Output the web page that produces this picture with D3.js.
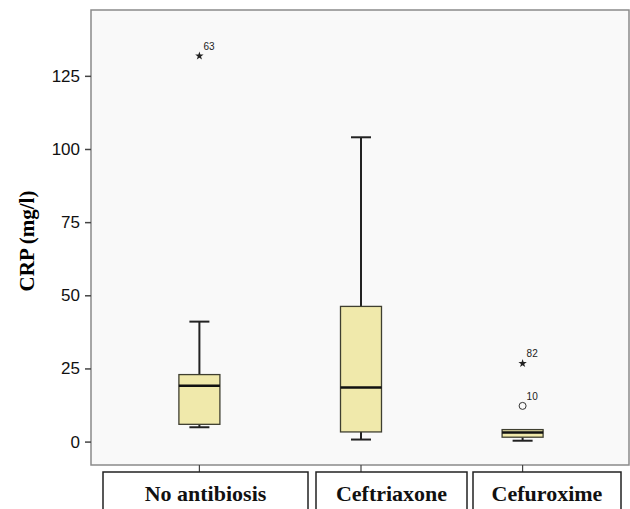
<!DOCTYPE html>
<html>
<head>
<meta charset="utf-8">
<script src="https://cdn.jsdelivr.net/npm/d3@7"></script>
<style>
  body { margin: 0; background: #fff; }
  svg { display: block; }
  .tick text { font-family: "Liberation Sans", Arial, sans-serif; font-size: 17px; fill: #111; }
</style>
</head>
<body>
<svg id="chart" width="630" height="509"></svg>
<script>
// CRP box plots per antibiotic group
const groups = ["No antibiosis", "Ceftriaxone", "Cefuroxime"];
const whiskerLow = [4.9, 0.7, 0.3];
const q1 = [5.9, 3.3, 1.5];
const median = [19.1, 18.5, 3.1];
const q3 = [22.9, 46.2, 4.1];
const whiskerHigh = [41, 104, 4.1];
const yTicks = [0, 25, 50, 75, 100, 125];

// outliers: group, value, case label, kind (star = extreme, circle = outlier)
const outlierGroup = ["No antibiosis", "Cefuroxime", "Cefuroxime"];
const outlierValue = [131.8, 26.7, 12.2];
const outlierLabel = ["63", "82", "10"];
const outlierKind = ["star", "star", "circle"];

const plot = { left: 91, top: 10, right: 629, bottom: 465 };
// category label boxes under the plot (layout only)
const labelBoxes = [[103, 308], [316, 467], [473, 621]];

const svg = d3.select("#chart");

const y = d3.scaleLinear()
    .domain([-8, 147.5])
    .range([plot.bottom, plot.top]);

const x = d3.scaleBand()
    .domain(groups)
    .range([119, 603])
    .paddingInner(0.745)
    .paddingOuter(0.37);

const boxW = 41;
const capW = 20;

svg.append("rect")
    .attr("x", plot.left)
    .attr("y", plot.top)
    .attr("width", plot.right - plot.left)
    .attr("height", plot.bottom - plot.top)
    .attr("fill", "#f9f9f9")
    .attr("stroke", "#8a8a8a")
    .attr("stroke-width", 1.5);

// y axis
const yAxis = svg.append("g")
    .attr("transform", `translate(${plot.left},0)`)
    .call(d3.axisLeft(y).tickValues(yTicks).tickSize(6).tickPadding(5));
yAxis.select(".domain").remove();
yAxis.selectAll(".tick line").attr("stroke", "#444").attr("stroke-width", 1.5);

svg.append("text")
    .attr("transform", `translate(34,241) rotate(-90)`)
    .attr("text-anchor", "middle")
    .style("font-family", "'Liberation Serif', 'Times New Roman', serif")
    .style("font-weight", "bold")
    .style("font-size", "21px")
    .text("CRP (mg/l)");

const cx = d => x(d) + x.bandwidth() / 2;

const data = groups.map((g, i) => ({
    group: g, lo: whiskerLow[i], q1: q1[i], med: median[i], q3: q3[i], hi: whiskerHigh[i]
}));

const box = svg.append("g").selectAll("g")
    .data(data)
    .enter()
    .append("g");

// whiskers
box.filter(d => d.hi > d.q3).append("line")
    .attr("x1", d => cx(d.group)).attr("x2", d => cx(d.group))
    .attr("y1", d => y(d.hi)).attr("y2", d => y(d.q3))
    .attr("stroke", "#222").attr("stroke-width", 2);
box.filter(d => d.hi > d.q3).append("line")
    .attr("x1", d => cx(d.group) - capW / 2).attr("x2", d => cx(d.group) + capW / 2)
    .attr("y1", d => y(d.hi)).attr("y2", d => y(d.hi))
    .attr("stroke", "#222").attr("stroke-width", 2);
box.append("line")
    .attr("x1", d => cx(d.group)).attr("x2", d => cx(d.group))
    .attr("y1", d => y(d.lo)).attr("y2", d => y(d.q1))
    .attr("stroke", "#222").attr("stroke-width", 2);
box.append("line")
    .attr("x1", d => cx(d.group) - capW / 2).attr("x2", d => cx(d.group) + capW / 2)
    .attr("y1", d => y(d.lo)).attr("y2", d => y(d.lo))
    .attr("stroke", "#222").attr("stroke-width", 2);

box.append("rect")
    .attr("x", d => cx(d.group) - boxW / 2)
    .attr("width", boxW)
    .attr("y", d => y(d.q3))
    .attr("height", d => y(d.q1) - y(d.q3))
    .attr("fill", "#f0e9ab")
    .attr("stroke", "#3f3f30")
    .attr("stroke-width", 1.3);

box.append("line")
    .attr("x1", d => cx(d.group) - boxW / 2).attr("x2", d => cx(d.group) + boxW / 2)
    .attr("y1", d => y(d.med)).attr("y2", d => y(d.med))
    .attr("stroke", "#111").attr("stroke-width", 2.5);

// outliers
const outliers = outlierValue.map((v, i) => ({
    group: outlierGroup[i], value: v, label: outlierLabel[i], kind: outlierKind[i]
}));
const og = svg.append("g").selectAll("g")
    .data(outliers)
    .enter()
    .append("g")
    .attr("transform", d => `translate(${cx(d.group)},${y(d.value)})`);

og.filter(d => d.kind === "star").append("path")
    .attr("d", d3.symbol().type(d3.symbolStar).size(22))
    .attr("fill", "#222");
og.filter(d => d.kind === "circle").append("circle")
    .attr("r", 3.5)
    .attr("fill", "none")
    .attr("stroke", "#333")
    .attr("stroke-width", 1);
og.append("text")
    .attr("x", 4)
    .attr("y", -6)
    .style("font-family", "'Liberation Sans', Arial, sans-serif")
    .style("font-size", "10px")
    .attr("fill", "#222")
    .text(d => d.label);

// category ticks and label boxes
const cat = svg.append("g").selectAll("g")
    .data(groups)
    .enter()
    .append("g");

cat.append("line")
    .attr("x1", d => cx(d)).attr("x2", d => cx(d))
    .attr("y1", plot.bottom).attr("y2", 472)
    .attr("stroke", "#444").attr("stroke-width", 1.2);

cat.append("rect")
    .attr("x", (d, i) => labelBoxes[i][0])
    .attr("y", 472)
    .attr("width", (d, i) => labelBoxes[i][1] - labelBoxes[i][0])
    .attr("height", 45)
    .attr("fill", "#fff")
    .attr("stroke", "#222")
    .attr("stroke-width", 1.5);

cat.append("text")
    .attr("x", (d, i) => (labelBoxes[i][0] + labelBoxes[i][1]) / 2)
    .attr("y", 501)
    .attr("text-anchor", "middle")
    .style("font-family", "'Liberation Serif', 'Times New Roman', serif")
    .style("font-weight", "bold")
    .style("font-size", "22px")
    .attr("fill", "#111")
    .text(d => d);
</script>
</body>
</html>
